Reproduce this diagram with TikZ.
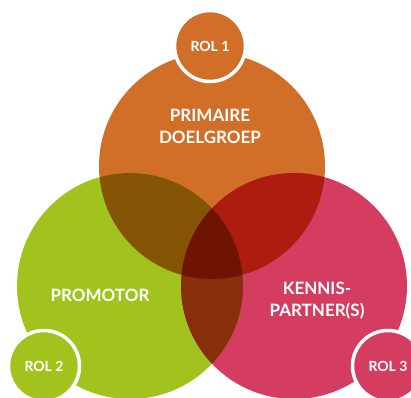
\documentclass[tikz,border=0pt]{standalone}
\usepackage{fontspec}
\setmainfont{Lato}
\definecolor{cOr}{RGB}{209,111,40}
\definecolor{cGr}{RGB}{162,195,29}
\definecolor{cPk}{RGB}{212,61,96}
\definecolor{cOG}{RGB}{133,85,5}
\definecolor{cOP}{RGB}{174,27,15}
\definecolor{cGP}{RGB}{135,47,11}
\definecolor{cOGP}{RGB}{111,20,2}
\tikzset{
  bigc/.style={circle, inner sep=0pt, minimum size=226pt},
  rolc/.style={circle, inner sep=0pt, minimum size=71pt, draw=white, line width=3.5pt,
    text=white, font=\bfseries\fontsize{14}{16}\selectfont},
  lbl/.style={text=white, inner sep=0pt, align=center, font=\bfseries\fontsize{17}{22}\selectfont}
}
\begin{document}
\begin{tikzpicture}[x=1pt,y=1pt]
\useasboundingbox (0,0) rectangle (411,-397);
\coordinate (cO) at (212,-166);
\coordinate (cG) at (130,-286);
\coordinate (cP) at (294,-286);
\node[bigc, fill=cOr] (orange) at (cO) {};
\node[bigc, fill=cGr] (green) at (cG) {};
\node[bigc, fill=cPk] (pink) at (cP) {};
\begin{scope}
  \clip (cO) circle (113);
  \fill[cOG] (cG) circle (113);
  \fill[cOP] (cP) circle (113);
\end{scope}
\begin{scope}
  \clip (cG) circle (113);
  \fill[cGP] (cP) circle (113);
  \clip (cP) circle (113);
  \fill[cOGP] (cO) circle (113);
\end{scope}
\node[lbl, anchor=north] (prim) at (210,-109) {PRIMAIRE\\DOELGROEP};
\node[lbl, anchor=base] (promo) at (100,-301) {PROMOTOR};
\node[lbl, anchor=north] (kennis) at (317,-282) {KENNIS-\\PARTNER(S)};
\node[rolc, fill=cOr] (rol1) at (210,-46) {ROL 1};
\node[rolc, fill=cGr] (rol2) at (44,-366) {ROL 2};
\node[rolc, fill=cPk] (rol3) at (388,-366) {ROL 3};
\end{tikzpicture}
\end{document}
